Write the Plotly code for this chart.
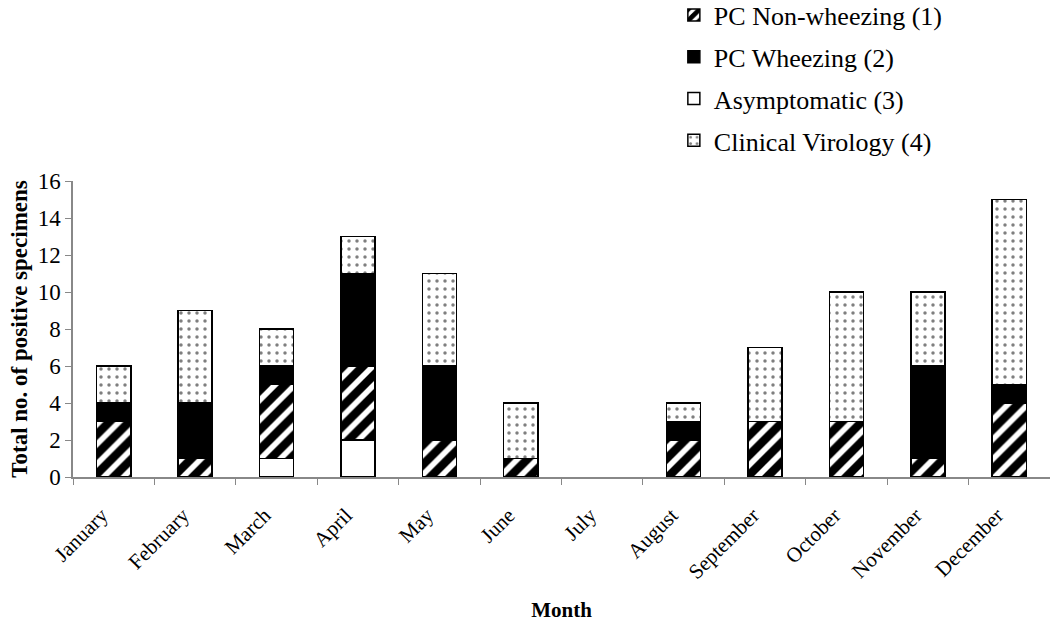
import plotly.graph_objects as go

months = ["January", "February", "March", "April", "May", "June", "July",
          "August", "September", "October", "November", "December"]
asymptomatic = [0, 0, 1, 2, 0, 0, 0, 0, 0, 0, 0, 0]
pc_non_wheezing = [3, 1, 4, 4, 2, 1, 0, 2, 3, 3, 1, 4]
pc_wheezing = [1, 3, 1, 5, 4, 0, 0, 1, 0, 0, 5, 1]
clinical_virology = [2, 5, 2, 2, 5, 3, 0, 1, 4, 7, 4, 10]

FONT = "Liberation Serif, Times New Roman, serif"
line = dict(color="black", width=1.5)


def nz(values):
    # zero-height segments are not drawn (no outline at the baseline)
    return [v if v else None for v in values]


fig = go.Figure()
fig.add_trace(go.Bar(x=months, y=nz(asymptomatic), name="Asymptomatic (3)",
                     legendrank=3, legendgroup="c",
                     marker=dict(color="white", line=line)))
fig.add_trace(go.Bar(x=months, y=nz(pc_non_wheezing), name="PC Non-wheezing (1)",
                     legendrank=1, legendgroup="a",
                     marker=dict(color="white", line=line,
                                 pattern=dict(shape="/", fgcolor="black", bgcolor="white",
                                              fgopacity=1, size=14, solidity=0.6))))
fig.add_trace(go.Bar(x=months, y=nz(pc_wheezing), name="PC Wheezing (2)",
                     legendrank=2, legendgroup="b",
                     marker=dict(color="black", line=line)))
fig.add_trace(go.Bar(x=months, y=nz(clinical_virology), name="Clinical Virology (4)",
                     legendrank=4, legendgroup="d",
                     marker=dict(color="white", line=line,
                                 pattern=dict(shape=".", fgcolor="black", bgcolor="white",
                                              size=8, solidity=0.15))))

fig.update_layout(
    barmode="stack",
    bargap=0.58,
    width=1050, height=623,
    margin=dict(l=73, r=0, t=181, b=146, autoexpand=False),
    paper_bgcolor="white", plot_bgcolor="white",
    font=dict(family=FONT, size=20, color="black"),
    showlegend=True,
    legend=dict(x=0.615, y=1.64, xanchor="left", yanchor="top",
                font=dict(family=FONT, size=26), traceorder="grouped",
                tracegroupgap=5, bgcolor="rgba(0,0,0,0)"),
    xaxis=dict(type="category", tickson="boundaries", ticks="outside", ticklen=6,
               tickcolor="#888", showline=True, linecolor="#888", linewidth=1.5,
               tickangle=-45, tickfont=dict(family=FONT, size=21),
               ticklabelstandoff=16, ticklabelshift=-12,
               title=dict(text="<b>Month</b>", font=dict(family=FONT, size=21), standoff=19),
               showgrid=False),
    yaxis=dict(range=[0, 16], dtick=2, ticks="outside", ticklen=6, tickcolor="#888",
               showline=True, linecolor="#888", linewidth=1.5, showgrid=False,
               zeroline=False, tickfont=dict(family=FONT, size=23),
               title=dict(text="<b>Total no. of positive specimens</b>",
                          font=dict(family=FONT, size=23), standoff=4)),
)

# remove the browser's default 8px page margin so the figure sits at the window corner
fig.write_html("out.html", config={"displayModeBar": False},
               post_script="document.body.style.margin='0';")
